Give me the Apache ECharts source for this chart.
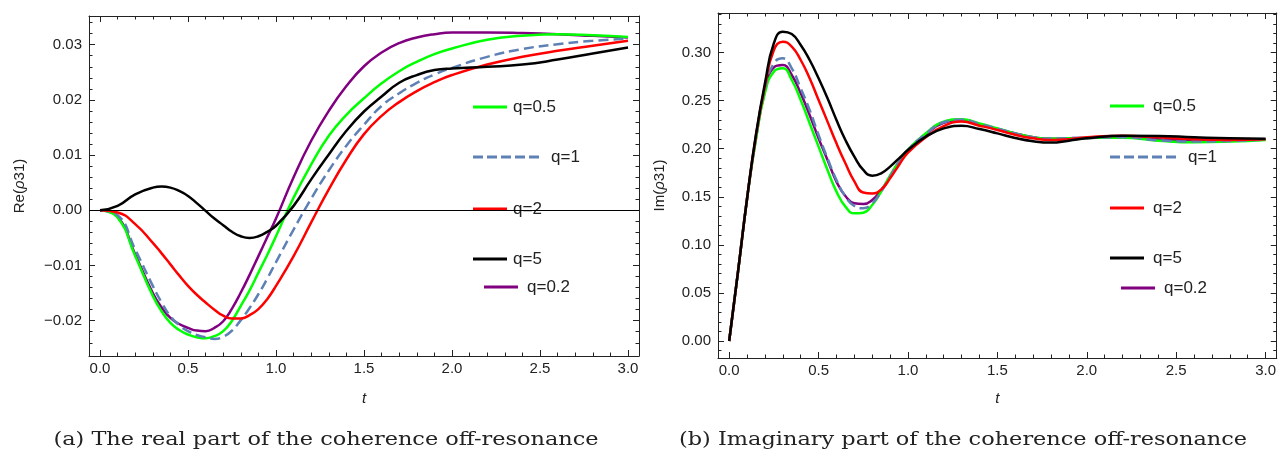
<!DOCTYPE html>
<html>
<head>
<meta charset="utf-8">
<script src="https://cdn.jsdelivr.net/npm/echarts@6/dist/echarts.min.js"></script>
<style>
  html, body { margin: 0; padding: 0; background: #fff; }
  #chart { width: 1279px; height: 453px; }
</style>
</head>
<body>
<div id="chart"></div>
<script>
// time samples
const T_RE = [0, 0.1, 0.2, 0.3, 0.35, 0.4, 0.45, 0.5, 0.55, 0.6, 0.65, 0.7, 0.75, 0.8, 0.85, 0.9, 0.95,
  1.0, 1.1, 1.2, 1.3, 1.4, 1.5, 1.6, 1.7, 1.8, 1.9, 2.0, 2.2, 2.4, 2.6, 2.8, 3.0];
const RE_Q02 = [0, -0.0012, -0.0080, -0.0150, -0.0176, -0.0195, -0.0206, -0.0213, -0.0218, -0.0219,
  -0.0213, -0.0201, -0.0178, -0.0149, -0.0117, -0.0083, -0.0049, -0.0015, 0.0060, 0.0126, 0.0180,
  0.0225, 0.0261, 0.0286, 0.0303, 0.0313, 0.0319, 0.0322, 0.0322, 0.0321, 0.0319, 0.0316, 0.0313];
const RE_Q05 = [0, -0.0013, -0.0083, -0.0155, -0.0183, -0.0204, -0.0217, -0.0225, -0.0230, -0.0232,
  -0.0228, -0.0219, -0.0200, -0.0173, -0.0145, -0.0113, -0.0081, -0.0047, 0.0023, 0.0083, 0.0135,
  0.0173, 0.0203, 0.0230, 0.0252, 0.0269, 0.0283, 0.0293, 0.0309, 0.0316, 0.0319, 0.0317, 0.0314];
const RE_Q1 = [0, -0.0009, -0.0071, -0.0137, -0.0167, -0.0192, -0.0208, -0.0219, -0.0226, -0.0230,
  -0.0233, -0.0229, -0.0218, -0.0199, -0.0177, -0.0152, -0.0124, -0.0094, -0.0035, 0.0021, 0.0072,
  0.0117, 0.0155, 0.0189, 0.0212, 0.0231, 0.0246, 0.0258, 0.0278, 0.0292, 0.0301, 0.0307, 0.0311];
const RE_Q2 = [0, -0.0004, -0.0025, -0.0059, -0.0078, -0.0098, -0.0118, -0.0137, -0.0153, -0.0167,
  -0.0180, -0.0191, -0.0196, -0.0196, -0.0190, -0.0179, -0.0161, -0.0137, -0.0083, -0.0022, 0.0038,
  0.0092, 0.0138, 0.0171, 0.0196, 0.0216, 0.0232, 0.0245, 0.0264, 0.0278, 0.0289, 0.0298, 0.0307];
const RE_Q5 = [0, 0.0008, 0.0029, 0.0041, 0.0043, 0.0041, 0.0035, 0.0026, 0.0013, -0.0001,
  -0.0015, -0.0027, -0.0039, -0.0047, -0.0050, -0.0047, -0.0039, -0.0028, 0.0008, 0.0056, 0.0101,
  0.0144, 0.0179, 0.0206, 0.0231, 0.0245, 0.0254, 0.0257, 0.0260, 0.0264, 0.0273, 0.0284, 0.0295];

const T_IM = [0, 0.05, 0.1, 0.15, 0.2, 0.25, 0.3, 0.35, 0.4, 0.45, 0.5, 0.55, 0.6, 0.65, 0.7, 0.75,
  0.8, 0.85, 0.9, 0.95, 1.0, 1.1, 1.2, 1.3, 1.4, 1.5, 1.6, 1.7, 1.8, 1.9, 2.0, 2.2, 2.4, 2.6, 2.8, 3.0];
const IM_Q02 = [0, 0.073, 0.148, 0.211, 0.260, 0.2847, 0.2871, 0.2767, 0.2576, 0.2351, 0.2108, 0.1883,
  0.1658, 0.1508, 0.1432, 0.1425, 0.1467, 0.1571, 0.1710, 0.1866, 0.1987, 0.2150, 0.2270, 0.2298,
  0.2252, 0.2205, 0.2160, 0.2119, 0.2105, 0.2110, 0.2112, 0.2126, 0.2098, 0.2088, 0.2088, 0.2095];
const IM_Q05 = [0, 0.073, 0.148, 0.210, 0.258, 0.2802, 0.2836, 0.2715, 0.2507, 0.2265, 0.2022, 0.1779,
  0.1554, 0.1398, 0.1328, 0.1335, 0.1415, 0.1554, 0.1723, 0.1866, 0.1990, 0.2160, 0.2282, 0.2306,
  0.2262, 0.2212, 0.2160, 0.2119, 0.2105, 0.2108, 0.2112, 0.2115, 0.2084, 0.2067, 0.2074, 0.2091];
const IM_Q1 = [0, 0.073, 0.148, 0.212, 0.262, 0.2889, 0.2940, 0.2836, 0.2628, 0.2403, 0.2143, 0.1900,
  0.1675, 0.1502, 0.1404, 0.1380, 0.1432, 0.1554, 0.1710, 0.1866, 0.1987, 0.2155, 0.2275, 0.2302,
  0.2258, 0.2210, 0.2160, 0.2119, 0.2105, 0.2110, 0.2112, 0.2119, 0.2088, 0.2074, 0.2081, 0.2095];
const IM_Q2 = [0, 0.073, 0.148, 0.214, 0.265, 0.3027, 0.3114, 0.3062, 0.2923, 0.2733, 0.2507, 0.2282,
  0.2056, 0.1848, 0.1660, 0.1545, 0.1535, 0.1575, 0.1692, 0.1831, 0.1960, 0.2120, 0.2236, 0.2282,
  0.2240, 0.2195, 0.2145, 0.2108, 0.2091, 0.2098, 0.2119, 0.2136, 0.2119, 0.2098, 0.2091, 0.2098];
const IM_Q5 = [0, 0.073, 0.148, 0.215, 0.268, 0.3097, 0.3218, 0.3193, 0.3079, 0.2923, 0.2733, 0.2525,
  0.2299, 0.2091, 0.1918, 0.1779, 0.1720, 0.1744, 0.1814, 0.1900, 0.1987, 0.2126, 0.2212, 0.2238,
  0.2205, 0.2160, 0.2112, 0.2078, 0.2064, 0.2084, 0.2108, 0.2136, 0.2133, 0.2119, 0.2108, 0.2105];

// tick positions
const T_MAJOR = [0, 0.5, 1, 1.5, 2, 2.5, 3];
const RE_MAJOR = [-0.02, -0.01, 0, 0.01, 0.02, 0.03];
const IM_MAJOR = [0, 0.05, 0.1, 0.15, 0.2, 0.25, 0.3];

const range = (a, b, step) => {
  const out = [];
  const n = Math.round((b - a) / step);
  for (let i = 0; i <= n; i++) out.push(+(a + i * step).toFixed(6));
  return out;
};
const T_MINOR = range(0, 3, 0.1);
const RE_MINOR = range(-0.024, 0.034, 0.002);
const IM_MINOR = range(-0.01, 0.34, 0.01);

const FRAME = '#222';
const SANS = '"Liberation Sans", Arial, sans-serif';
const SERIF = '"DejaVu Serif", serif';
const COLORS = { 'q=0.2': '#800080', 'q=0.5': '#00ff00', 'q=1': '#5e81b5', 'q=2': '#ff0000', 'q=5': '#000000' };

// one side of the frame: a labelled axis with major ticks plus a bare one for minor ticks
function side(dim, grid, pos, min, max, major, minor, fmt, extra) {
  const main = Object.assign({
    type: 'value', gridIndex: grid, position: pos, min, max,
    axisLine: { show: true, onZero: false, lineStyle: { color: FRAME, width: 1 } },
    axisTick: { show: true, inside: true, length: 6, customValues: major, lineStyle: { color: FRAME } },
    axisLabel: { show: !!fmt, customValues: major, formatter: fmt, color: '#222',
      fontFamily: SANS, fontSize: 15, margin: dim === 'x' ? 5 : 7 },
    splitLine: { show: false }
  }, extra || {});
  const sub = {
    type: 'value', gridIndex: grid, position: pos, min, max,
    axisLine: { show: false, onZero: false },
    axisTick: { show: true, inside: true, length: 3.5, customValues: minor, lineStyle: { color: FRAME } },
    axisLabel: { show: false },
    splitLine: { show: false }
  };
  return [main, sub];
}

const fmtT = v => v.toFixed(1);
const fmtRe = v => (v < -1e-9 ? '\u2212' : '') + Math.abs(v).toFixed(2);
const fmtIm = v => v.toFixed(2);

const xName = (gap) => ({
  name: 't', nameLocation: 'middle', nameGap: gap,
  nameTextStyle: { fontFamily: SANS, fontSize: 15, fontStyle: 'italic', color: '#222' }
});
const yName = (pre, gap) => ({
  name: '{a|' + pre + '(}{b|\u03c1}{a|31)}', nameLocation: 'middle', nameGap: gap,
  nameTextStyle: {
    rich: {
      a: { fontFamily: SANS, fontSize: 15, color: '#222' },
      b: { fontFamily: SANS, fontSize: 15, fontStyle: 'italic', color: '#222' }
    }
  }
});

// grid 0: real part, grid 1: imaginary part; x axes 0-3 / 4-7, y axes 0-3 / 4-7
const xAxes = [
  ...side('x', 0, 'bottom', -0.0625, 3.0625, T_MAJOR, T_MINOR, fmtT, xName(35)),
  ...side('x', 0, 'top', -0.0625, 3.0625, T_MAJOR, T_MINOR, null),
  ...side('x', 1, 'bottom', -0.0625, 3.0625, T_MAJOR, T_MINOR, fmtT, xName(33)),
  ...side('x', 1, 'top', -0.0625, 3.0625, T_MAJOR, T_MINOR, null)
];
const yAxes = [
  ...side('y', 0, 'left', -0.0264, 0.0352, RE_MAJOR, RE_MINOR, fmtRe, yName('Re', 62)),
  ...side('y', 0, 'right', -0.0264, 0.0352, RE_MAJOR, RE_MINOR, null),
  ...side('y', 1, 'left', -0.0177, 0.3412, IM_MAJOR, IM_MINOR, fmtIm, yName('Im', 51)),
  ...side('y', 1, 'right', -0.0177, 0.3412, IM_MAJOR, IM_MINOR, null)
];

function curve(name, ts, vs, axisIndex) {
  const color = COLORS[name];
  return {
    name, type: 'line', xAxisIndex: axisIndex, yAxisIndex: axisIndex, color,
    data: ts.map((t, i) => [t, vs[i]]),
    symbol: 'none', showSymbol: false, smooth: true, silent: true,
    lineStyle: { width: 2.5, color, type: name === 'q=1' ? [10, 5] : 'solid' }
  };
}

const series = [
  curve('q=0.2', T_RE, RE_Q02, 0),
  curve('q=0.5', T_RE, RE_Q05, 0),
  curve('q=1', T_RE, RE_Q1, 0),
  curve('q=2', T_RE, RE_Q2, 0),
  curve('q=5', T_RE, RE_Q5, 0),
  curve('q=0.2', T_IM, IM_Q02, 4),
  curve('q=0.5', T_IM, IM_Q05, 4),
  curve('q=1', T_IM, IM_Q1, 4),
  curve('q=2', T_IM, IM_Q2, 4),
  curve('q=5', T_IM, IM_Q5, 4)
];
// thin zero line across the real-part panel
series[0].markLine = {
  silent: true, symbol: 'none', label: { show: false },
  lineStyle: { color: '#000', width: 1, type: 'solid' },
  data: [{ yAxis: 0 }]
};

const DASH_ICON = 'path://M0,0h10v3h-10z M14,0h10v3h-10z M28,0h10v3h-10z M42,0h10v3h-10z M56,0h10v3h-10z';

function legendItem(name, left, cy, gap) {
  const dashed = name === 'q=1';
  return {
    left, top: cy - 9, padding: 0, selectedMode: false,
    itemWidth: dashed ? 66 : 34, itemHeight: 3,
    data: [{ name, icon: dashed ? DASH_ICON : 'rect', itemStyle: { color: COLORS[name], borderWidth: 0 } }],
    textStyle: { fontFamily: SANS, fontSize: 17, color: '#222', lineHeight: 18, padding: [0, 0, 0, gap] }
  };
}

const legends = [
  legendItem('q=0.5', 473, 107, 1),
  legendItem('q=1', 473, 157, 7),
  legendItem('q=2', 473, 209, 1),
  legendItem('q=5', 473, 259, 1),
  legendItem('q=0.2', 484, 287, 4),
  legendItem('q=0.5', 1110, 106, 4),
  legendItem('q=1', 1110, 157, 7),
  legendItem('q=2', 1110, 208, 4),
  legendItem('q=5', 1110, 258, 4),
  legendItem('q=0.2', 1121, 288, 4)
];

const caption = (x, text) => ({
  type: 'text', x, y: 440, scaleX: 1.18, silent: true,
  style: { text, font: '19px ' + SERIF, fill: '#222', align: 'center', verticalAlign: 'middle' }
});

const chart = echarts.init(document.getElementById('chart'), null, { renderer: 'canvas' });
chart.setOption({
  animation: false,
  backgroundColor: '#fff',
  grid: [
    { left: 89, top: 16, width: 550, height: 340 },
    { left: 718, top: 13, width: 559, height: 345 }
  ],
  xAxis: xAxes,
  yAxis: yAxes,
  legend: legends,
  series,
  graphic: [
    caption(326, '(a) The real part of the coherence off-resonance'),
    caption(963, '(b) Imaginary part of the coherence off-resonance')
  ]
});
</script>
</body>
</html>
